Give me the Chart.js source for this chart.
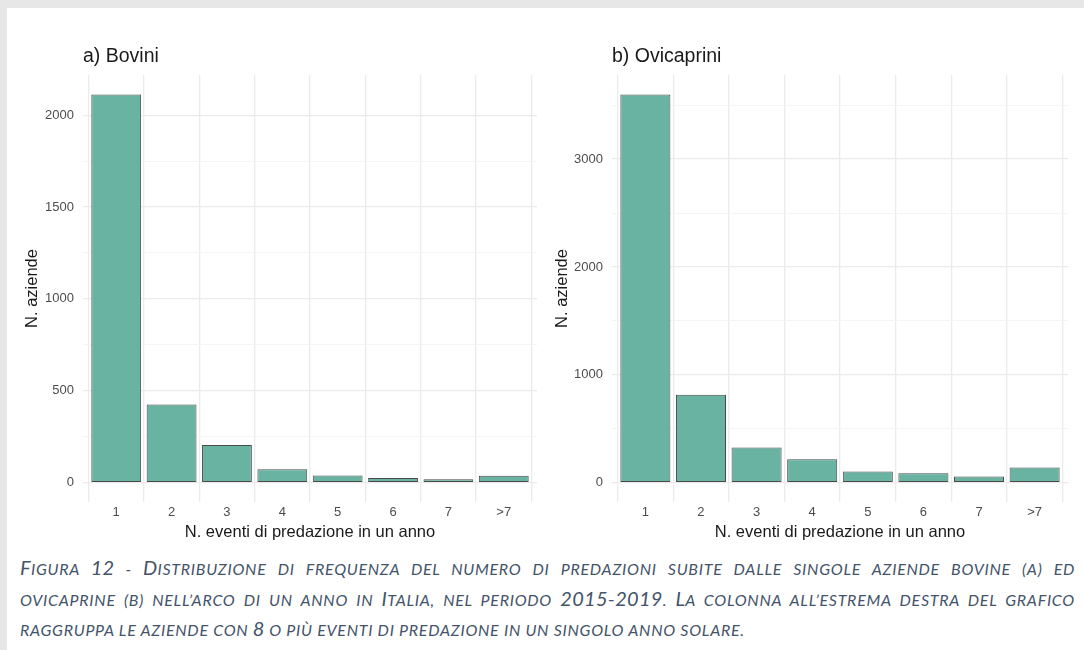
<!DOCTYPE html>
<html><head><meta charset="utf-8">
<script src="https://cdn.jsdelivr.net/npm/chart.js@4.4.1/dist/chart.umd.min.js"></script>
<style>
html,body{margin:0;padding:0;width:1084px;height:650px;overflow:hidden;background:#e7e7e7;}
#panel{position:absolute;left:7px;top:8px;width:1077px;height:642px;background:#fff;}
.cv{position:absolute;}
#caption{position:absolute;left:20px;top:553px;width:1055px;font-family:Lato,"Open Sans",sans-serif;font-style:italic;text-transform:uppercase;color:#44546a;font-size:16px;letter-spacing:0.72px;line-height:29.5px;}
#caption .b{font-size:20px;letter-spacing:0.3px;}
.j{text-align:justify;text-align-last:justify;}
.l{text-align:left;}
</style></head>
<body>
<div id="panel"></div>
<div class="cv" style="left:8px;top:30px;width:529px;height:516px;"><canvas id="c1" width="529" height="516"></canvas></div>
<div class="cv" style="left:540px;top:30px;width:528px;height:516px;"><canvas id="c2" width="528" height="516"></canvas></div>
<div id="caption">
<div class="j"><span class="b">F</span>igura <span class="b">12</span> - <span class="b">D</span>istribuzione di frequenza del numero di predazioni subite dalle singole aziende bovine (a) ed</div>
<div class="j">ovicaprine (b) nell’arco di un anno in <span class="b">I</span>talia, nel periodo <span class="b">2015-2019</span>. <span class="b">L</span>a colonna all’estrema destra del grafico</div>
<div class="l">raggruppa le aziende con <span class="b">8</span> o più eventi di predazione in un singolo anno solare.</div>
</div>
<script>
const categories = ['1','2','3','4','5','6','7','>7'];
const boviniValues = [2113, 425, 204, 73, 39, 25, 18, 37];
const ovicapriniValues = [3600, 815, 325, 216, 102, 86, 56, 139];
const boviniTicks = [0, 500, 1000, 1500, 2000];
const ovicapriniTicks = [0, 1000, 2000, 3000];
const xTitle = 'N. eventi di predazione in un anno';
const yTitle = 'N. aziende';

Chart.defaults.font.family = '"Liberation Sans", Arial, sans-serif';

function makeChart(id, title, values, majorTicks, yWidth, yTitlePad) {
  const maxV = Math.max(...values);
  const pad = maxV * 0.05;
  const step = majorTicks[1] - majorTicks[0];
  const half = step / 2;
  const allTicks = [];
  for (let v = 0; v <= maxV + pad; v += half) allTicks.push(v);
  const isMajor = v => majorTicks.includes(v);
  return new Chart(document.getElementById(id), {
    type: 'bar',
    data: {
      datasets: [{
        data: values.map((v, i) => ({x: i + 1, y: v})),
        backgroundColor: '#69b3a2',
        borderColor: '#4a4a4a',
        borderWidth: 1,
        borderSkipped: false,
        barPercentage: 0.9,
        categoryPercentage: 1
      }]
    },
    options: {
      responsive: false,
      animation: false,
      devicePixelRatio: 1,
      layout: {padding: 0},
      plugins: {
        legend: {display: false},
        tooltip: {enabled: false},
        title: {
          display: true, text: title, align: 'start', fullSize: false,
          color: '#1a1a1a', font: {size: 19.5, weight: 'normal'},
          padding: {top: 15.3, bottom: 6.3}
        }
      },
      scales: {
        x: {
          type: 'linear', min: 0.4, max: 8.6, offset: false,
          afterBuildTicks: s => { s.ticks = categories.map((c, i) => ({value: i + 1})); },
          afterFit: s => { s.height = 44; },
          ticks: {
            callback: v => categories[v - 1], autoSkip: false, maxRotation: 0,
            color: '#4d4d4d', font: {size: 13}, padding: 2.5
          },
          grid: {color: '#ebebeb', lineWidth: 1.3, drawTicks: false},
          border: {display: false},
          title: {display: true, text: xTitle, color: '#1a1a1a', font: {size: 16.5}, padding: {top: 0, bottom: 4.1}}
        },
        y: {
          min: -pad, max: maxV + pad,
          afterBuildTicks: s => { s.ticks = allTicks.map(v => ({value: v})); },
          afterFit: s => { s.width = yWidth; },
          ticks: {
            callback: v => isMajor(v) ? String(v) : '', autoSkip: false,
            color: '#4d4d4d', font: {size: 13}, padding: 9
          },
          grid: {
            color: c => isMajor(c.tick.value) ? '#ebebeb' : '#f3f3f3',
            lineWidth: c => isMajor(c.tick.value) ? 1.3 : 0.9,
            drawTicks: false
          },
          border: {display: false},
          title: {display: true, text: yTitle, color: '#1a1a1a', font: {size: 16.5}, padding: {top: yTitlePad, bottom: 0}}
        }
      }
    }
  });
}

makeChart('c1', 'a) Bovini', boviniValues, boviniTicks, 75, 14.1);
makeChart('c2', 'b) Ovicaprini', ovicapriniValues, ovicapriniTicks, 72, 12.1);
</script>
</body></html>
